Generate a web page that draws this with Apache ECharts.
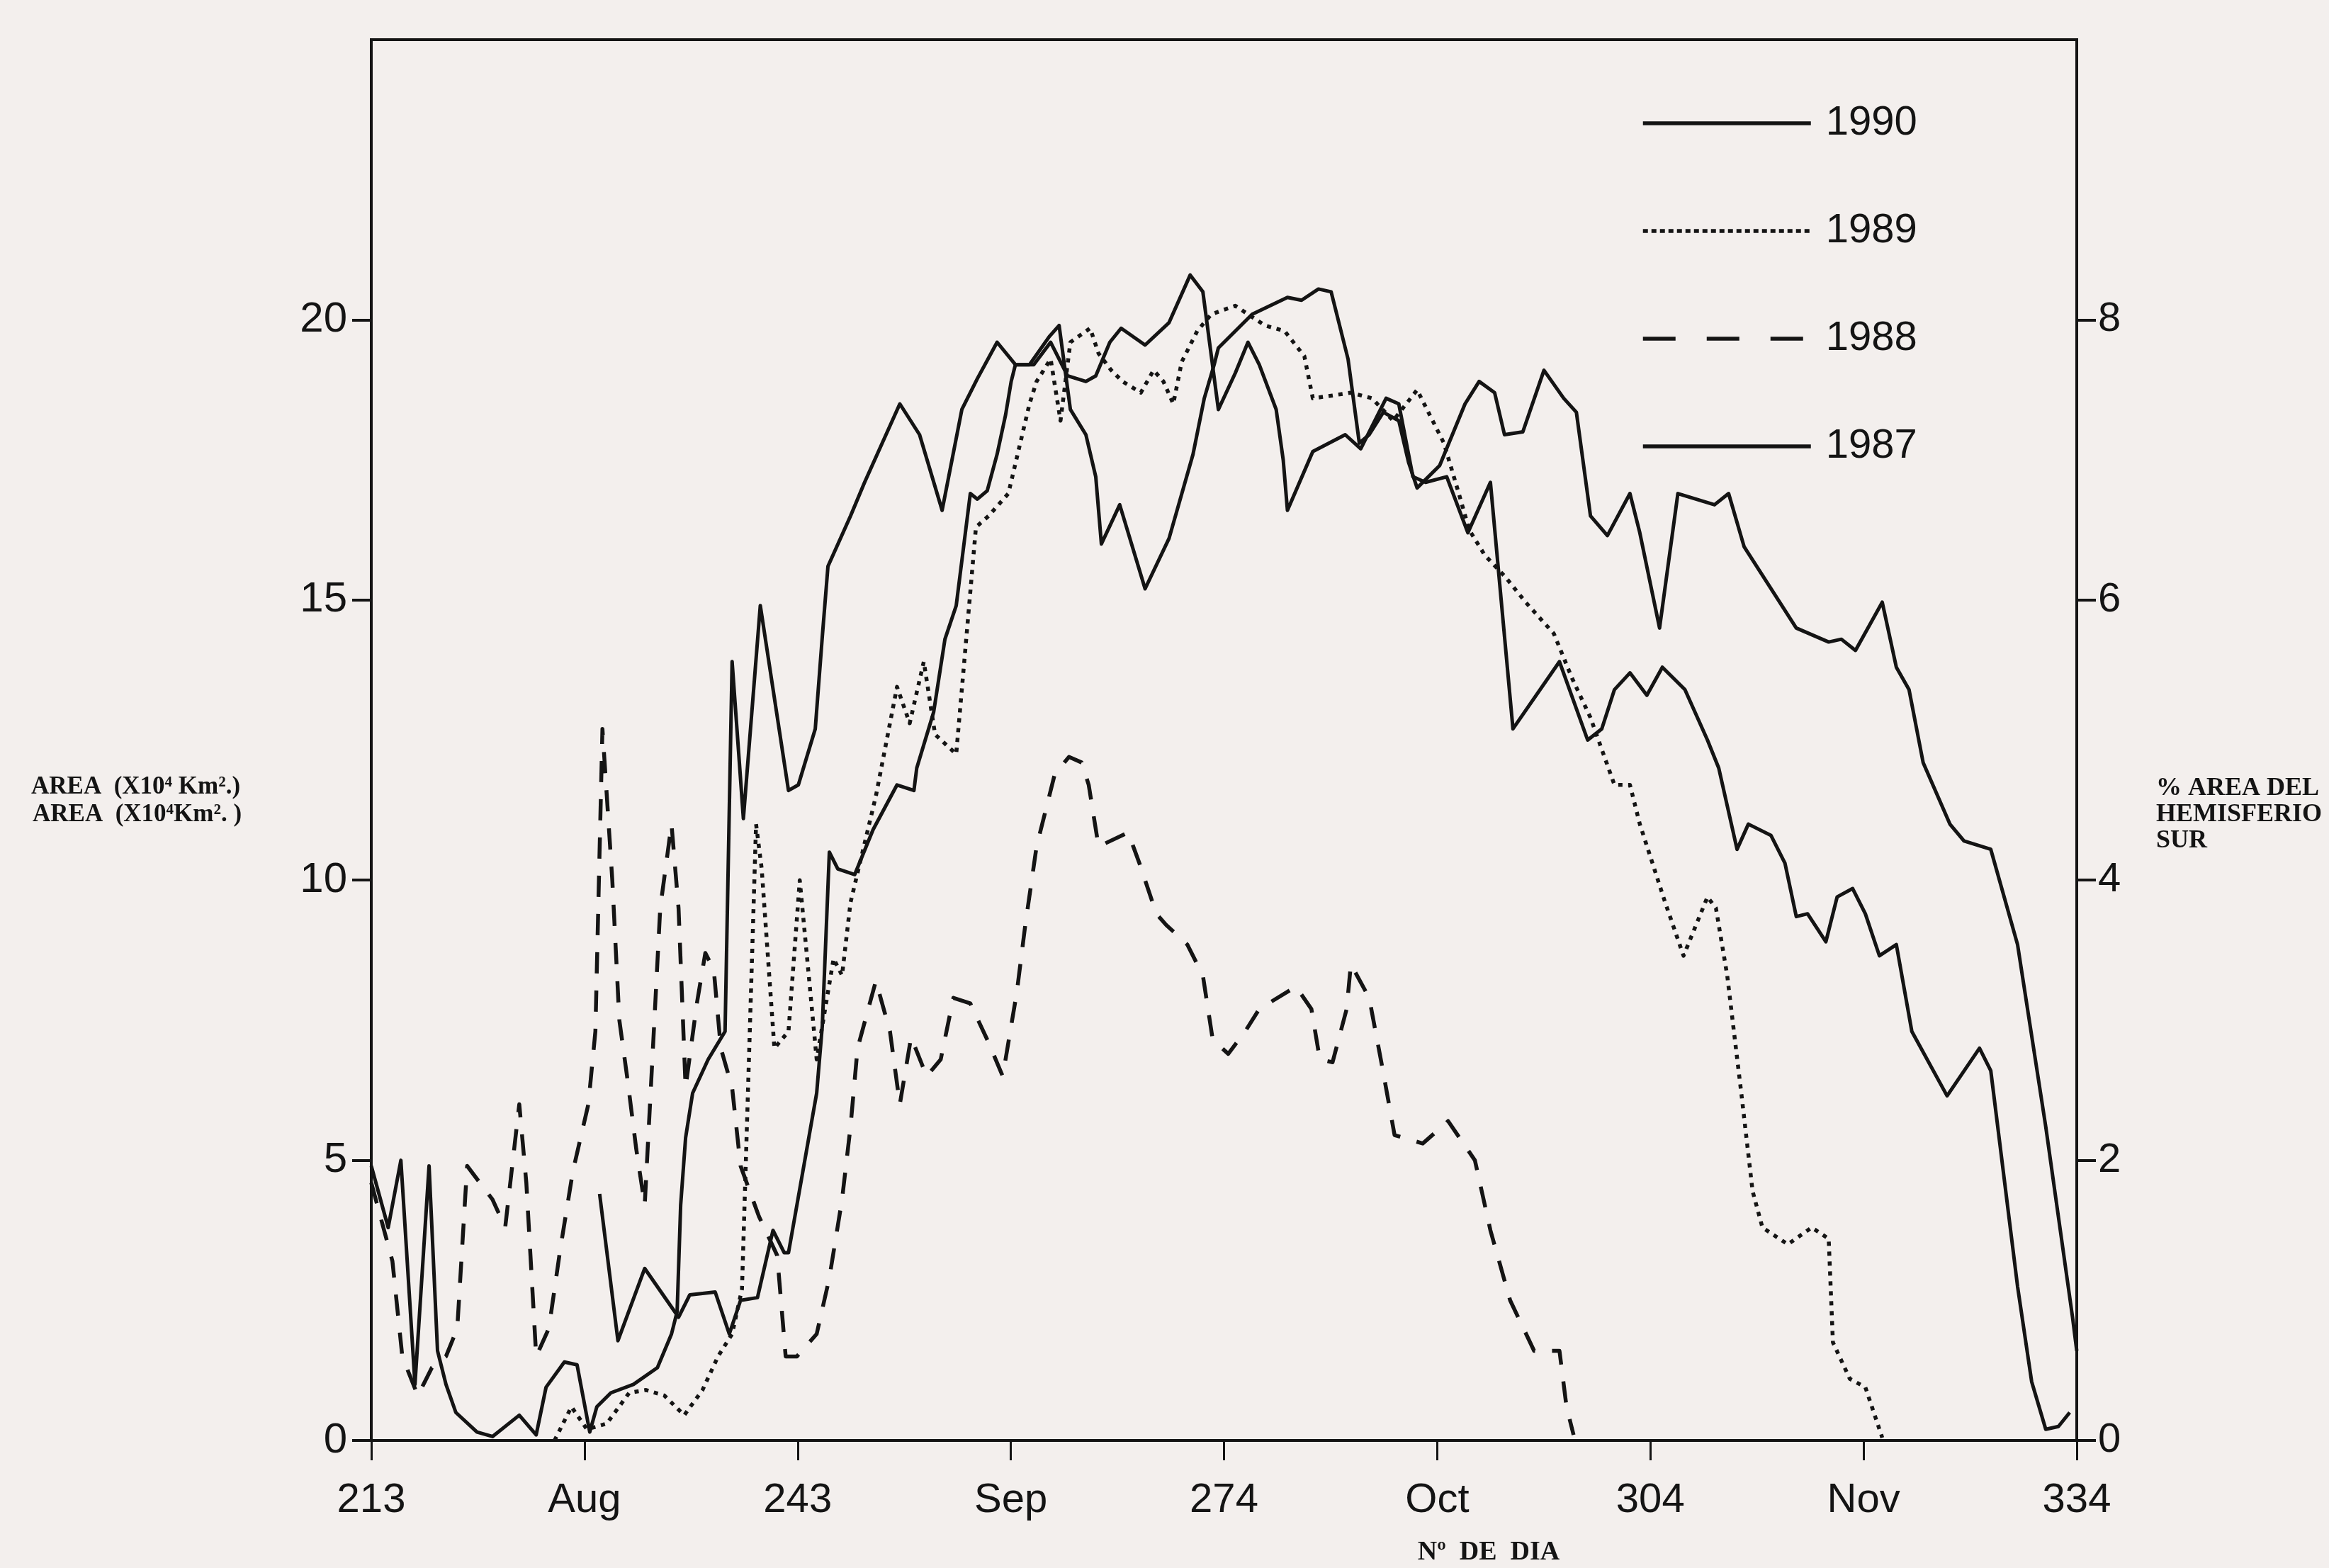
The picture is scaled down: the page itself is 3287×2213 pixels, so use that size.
<!DOCTYPE html>
<html>
<head>
<meta charset="utf-8">
<script src="https://cdn.jsdelivr.net/npm/echarts@6/dist/echarts.min.js"></script>
<style>
html,body{margin:0;padding:0;background:#f3efed;}
#chart{width:3287px;height:2213px;}
</style>
</head>
<body>
<div id="chart"></div>
<script>
// ---- data (day of year, area x10^6 km2) ----
const xTickLabels = ['213','Aug','243','Sep','274','Oct','304','Nov','334'];
const leftTicks = [0,5,10,15,20];
const rightTicks = [0,2,4,6,8];
const seriesNames = ['1990','1989','1988','1987'];

const s1990 = [[213,4.9],[214.2,3.8],[215.1,5.0],[216.1,1.0],[217.1,4.9],[217.7,1.6],[218.3,1.0],[219,0.5],[220.5,0.15],[221.6,0.07],[223.5,0.45],[224.7,0.1],[225.4,0.95],[226.7,1.4],[227.6,1.35],[228.5,0.15],[229,0.6],[230,0.85],[231.6,1.0],[233.3,1.3],[234.3,1.9],[234.7,2.3],[234.95,4.2],[235.3,5.4],[235.8,6.2],[236.9,6.8],[238.1,7.3],[238.6,13.9],[239.4,11.1],[240.6,14.9],[242.6,11.6],[243.3,11.7],[244.5,12.7],[245,14.35],[245.4,15.6],[247,16.5],[248,17.1],[250.5,18.5],[251.9,17.95],[253.5,16.6],[254.9,18.4],[256,18.95],[257.4,19.6],[258.7,19.2],[259.7,19.2],[261.1,19.7],[261.8,19.9],[262.6,18.4],[263.7,17.95],[264.4,17.2],[264.8,16.0],[266.1,16.7],[267.9,15.2],[269.6,16.1],[271.3,17.6],[272.1,18.6],[272.8,19.2],[273.1,19.5],[275.5,20.1],[278,20.4],[279,20.35],[280.2,20.55],[281.1,20.5],[282.3,19.3],[283.1,17.8],[283.8,17.95],[284.8,18.35],[285.9,18.2],[286.6,17.45],[287.2,17.0],[288.8,17.4],[290.6,18.5],[291.6,18.9],[292.7,18.7],[293.4,17.95],[294.7,18.0],[296.2,19.1],[297.6,18.6],[298.5,18.35],[299.5,16.5],[300.7,16.15],[302.3,16.9],[303,16.2],[304.4,14.5],[305.7,16.9],[308.3,16.7],[309.3,16.9],[310.4,15.95],[314.1,14.5],[316.4,14.25],[317.3,14.3],[318.3,14.1],[320.2,14.96],[321.2,13.8],[322.1,13.4],[323.1,12.1],[325,11.0],[326,10.7],[327.9,10.55],[329.8,8.85],[331.8,5.6],[333.7,2.2],[334,1.6]];

const s1989 = [[226,0.0],[227.2,0.6],[228.3,0.2],[229.7,0.3],[231.3,0.85],[232.5,0.9],[233.8,0.8],[235.2,0.45],[236.5,0.9],[237.6,1.5],[238.6,1.9],[239.3,2.7],[240.3,11.0],[240.7,10.2],[241.6,7.0],[242.6,7.3],[243.4,10.0],[244.6,6.8],[245.8,8.6],[246.4,8.3],[247,9.6],[248.8,11.5],[250.3,13.45],[251.2,12.8],[252.2,13.9],[253,12.6],[254.5,12.25],[255.9,16.3],[256.8,16.5],[258.2,16.9],[259.7,18.5],[260.2,18.9],[261.2,19.3],[261.9,18.2],[262.6,19.6],[264,19.85],[264.6,19.4],[265.5,19.1],[266.3,18.9],[267.6,18.7],[268.5,19.1],[269.2,18.9],[269.9,18.5],[270.5,19.25],[271.6,19.8],[272.6,20.1],[274.3,20.25],[276.4,19.9],[277.8,19.8],[279.2,19.35],[279.8,18.6],[281.2,18.65],[282.5,18.7],[284,18.6],[285.5,18.2],[287.2,18.75],[289.1,17.8],[290.1,16.95],[290.9,16.25],[292,15.8],[293.5,15.4],[294.9,14.96],[296.9,14.4],[298.2,13.6],[299.5,12.9],[301.2,11.7],[302.3,11.7],[303,11.0],[304.8,9.6],[306.1,8.65],[307.8,9.7],[308.4,9.5],[309.2,8.3],[310.2,6.2],[311,4.45],[311.7,3.8],[313.5,3.5],[315.2,3.8],[316.4,3.6],[316.7,1.75],[317.9,1.1],[319,0.95],[320.2,0.05]];

const s1988 = [[213,4.6],[214.5,3.2],[215.2,1.5],[216.3,0.8],[217.3,1.3],[218.3,1.5],[219.1,2.0],[219.8,4.9],[221.6,4.3],[222.5,3.8],[223.5,6.0],[224.0,4.6],[224.7,1.5],[225.6,2.0],[226.4,3.4],[227.3,4.8],[228.4,6.0],[228.9,7.3],[229.4,12.7],[230.1,10.0],[230.6,7.5],[231.2,6.4],[231.8,5.2],[232.4,4.2],[232.9,6.6],[233.5,9.5],[234.3,11.0],[234.8,9.5],[235.3,6.3],[236.1,7.8],[236.7,8.7],[237.3,8.4],[237.8,7.0],[238.6,6.3],[239.2,4.9],[240.5,4.0],[241.8,3.3],[242.4,1.5],[243.2,1.5],[244.6,1.9],[245.5,2.9],[246.4,4.3],[247,5.6],[247.5,7.0],[248.8,8.2],[249.8,7.3],[250.5,6.0],[251.3,7.2],[252.4,6.5],[253.4,6.8],[254.3,7.9],[255.5,7.8],[256.8,7.1],[257.8,6.5],[258.8,8.0],[259.4,9.2],[260.2,10.6],[261.5,11.9],[262.5,12.2],[263.4,12.1],[263.9,11.7],[264.6,10.6],[266.7,10.85],[267.5,10.3],[268.7,9.4],[269.4,9.2],[270.9,8.85],[272,8.3],[272.7,7.15],[273.8,6.9],[275,7.3],[276,7.7],[278.6,8.1],[279.7,7.7],[280.3,6.8],[281.2,6.75],[282.2,7.7],[282.5,8.5],[283.8,7.9],[284.7,6.7],[285.6,5.45],[287.6,5.3],[289.4,5.7],[291.3,5.0],[292.4,3.75],[293.8,2.5],[295.5,1.6],[297.3,1.6],[297.8,0.6],[298.3,0.1]];

const s1987 = [[229.2,4.4],[230.5,1.78],[232.4,3.07],[234.8,2.2],[235.6,2.6],[237.4,2.65],[238.4,1.9],[239.2,2.5],[240.4,2.55],[241.5,3.75],[242.3,3.35],[242.6,3.35],[244.6,6.2],[245,7.4],[245.5,10.5],[246.1,10.2],[247.3,10.1],[248.6,10.9],[250.3,11.7],[251.5,11.6],[251.7,12.0],[252.9,13.0],[253.7,14.3],[254.5,14.9],[255.5,16.9],[256,16.8],[256.7,16.95],[257.4,17.6],[258,18.3],[258.4,18.9],[258.7,19.2],[260,19.2],[261.2,19.6],[262.4,19.0],[263.7,18.9],[264.4,19.0],[265.4,19.6],[266.2,19.85],[267.9,19.55],[269.6,19.95],[271.1,20.8],[272,20.5],[273.1,18.4],[274.3,19.05],[275.2,19.6],[276,19.2],[277.2,18.4],[277.7,17.5],[278,16.6],[279.8,17.65],[282.1,17.95],[283.2,17.7],[285,18.6],[285.9,18.5],[286.9,17.2],[287.8,17.1],[289.3,17.2],[290.8,16.2],[292.4,17.1],[294,12.7],[297.3,13.9],[299.3,12.5],[300.3,12.7],[301.2,13.4],[302.3,13.7],[303.5,13.3],[304.6,13.8],[306.2,13.4],[307.8,12.5],[308.6,12.0],[309.9,10.55],[310.7,11.0],[312.3,10.8],[313.3,10.3],[314.1,9.35],[314.9,9.4],[316.2,8.9],[317,9.7],[318.1,9.85],[319,9.4],[320,8.65],[321.2,8.85],[322.3,7.3],[324.8,6.15],[327.1,7.0],[327.9,6.6],[329.8,2.75],[330.8,1.05],[331.8,0.2],[332.7,0.25],[333.5,0.5]];

// ---- chart ----
const DAY0 = 213, DAY1 = 334;
const XSTEP = (DAY1 - DAY0) / 8;
const toPlot = arr => arr.map(p => [p[0] - DAY0, p[1]]);
const INK = '#141414';
const sans = '"Liberation Sans", Arial, sans-serif';
const serif = '"Liberation Serif", "Times New Roman", serif';

function lineSeries(name, data, type, width) {
  return {
    name, type: 'line', data: toPlot(data), yAxisIndex: 0,
    symbol: 'none', showSymbol: false, silent: true,
    lineStyle: { color: INK, width, type, cap: 'butt', join: 'round' },
    itemStyle: { color: INK }
  };
}

const chart = echarts.init(document.getElementById('chart'), null, { renderer: 'canvas' });
chart.setOption({
  backgroundColor: '#f3efed',
  animation: false,
  grid: { left: 524, right: 356, top: 56, bottom: 180, show: true, borderColor: INK, borderWidth: 4, containLabel: false },
  legend: {
    data: [
      { name: '1990', lineStyle: { type: 'solid' } },
      { name: '1989', lineStyle: { type: [7, 5] } },
      { name: '1988', lineStyle: { type: [46, 44] } },
      { name: '1987', lineStyle: { type: 'solid' } }
    ],
    orient: 'vertical', left: 2316, top: 145, padding: 0,
    itemWidth: 237, itemHeight: 14, itemGap: 94,
    itemStyle: { opacity: 0 },
    lineStyle: { width: 5.5, color: INK },
    textStyle: { fontSize: 58, lineHeight: 58, color: INK, fontFamily: sans, padding: [0, 0, 0, 16] }
  },
  xAxis: {
    type: 'value', min: 0, max: DAY1 - DAY0, interval: XSTEP,
    axisLine: { show: true, lineStyle: { color: INK, width: 4 } },
    axisTick: { show: true, length: 28, lineStyle: { color: INK, width: 3 } },
    axisLabel: { showMinLabel: true, showMaxLabel: true, margin: 56, fontSize: 58, color: INK, fontFamily: sans,
      formatter: v => xTickLabels[Math.round(v / XSTEP)] },
    splitLine: { show: false }
  },
  yAxis: [
    { type: 'value', position: 'left', min: 0, max: 25, interval: 5,
      axisLine: { show: true, lineStyle: { color: INK, width: 4 } },
      axisTick: { show: true, length: 27, customValues: leftTicks, lineStyle: { color: INK, width: 4 } },
      axisLabel: { margin: 34, fontSize: 60, color: INK, fontFamily: sans, customValues: leftTicks,
        formatter: v => (v > 20 ? '' : String(v)) },
      splitLine: { show: false } },
    { type: 'value', position: 'right', min: 0, max: 10, interval: 2,
      axisLine: { show: true, lineStyle: { color: INK, width: 4 } },
      axisTick: { show: true, length: 27, customValues: rightTicks, lineStyle: { color: INK, width: 4 } },
      axisLabel: { margin: 30, fontSize: 58, color: INK, fontFamily: sans, customValues: rightTicks,
        formatter: v => (v > 8 ? '' : String(v)) },
      splitLine: { show: false } }
  ],
  series: [
    lineSeries('1990', s1990, 'solid', 5),
    lineSeries('1989', s1989, [6, 8], 5.5),
    lineSeries('1988', s1988, [30, 24], 5.5),
    lineSeries('1987', s1987, 'solid', 5)
  ],
  graphic: [
    { type: 'text', x: 44, y: 1111, silent: true,
      style: { text: 'AREA  (X10⁴ Km².)', font: 'bold 35px ' + serif, fill: INK, textVerticalAlign: 'middle', verticalAlign: 'middle' } },
    { type: 'text', x: 46, y: 1150, silent: true,
      style: { text: 'AREA  (X10⁴Km². )', font: 'bold 35px ' + serif, fill: INK, textVerticalAlign: 'middle', verticalAlign: 'middle' } },
    { type: 'text', x: 3043, y: 1113, silent: true,
      style: { text: '% AREA DEL', font: 'bold 36px ' + serif, fill: INK, textVerticalAlign: 'middle', verticalAlign: 'middle' } },
    { type: 'text', x: 3043, y: 1150, silent: true,
      style: { text: 'HEMISFERIO', font: 'bold 36px ' + serif, fill: INK, textVerticalAlign: 'middle', verticalAlign: 'middle' } },
    { type: 'text', x: 3043, y: 1187, silent: true,
      style: { text: 'SUR', font: 'bold 36px ' + serif, fill: INK, textVerticalAlign: 'middle', verticalAlign: 'middle' } },
    { type: 'text', x: 2101, y: 2191, silent: true,
      style: { text: 'Nº  DE  DIA', font: 'bold 38px ' + serif, fill: INK, textAlign: 'center', align: 'center', textVerticalAlign: 'middle', verticalAlign: 'middle' } }
  ]
});
</script>
</body>
</html>
